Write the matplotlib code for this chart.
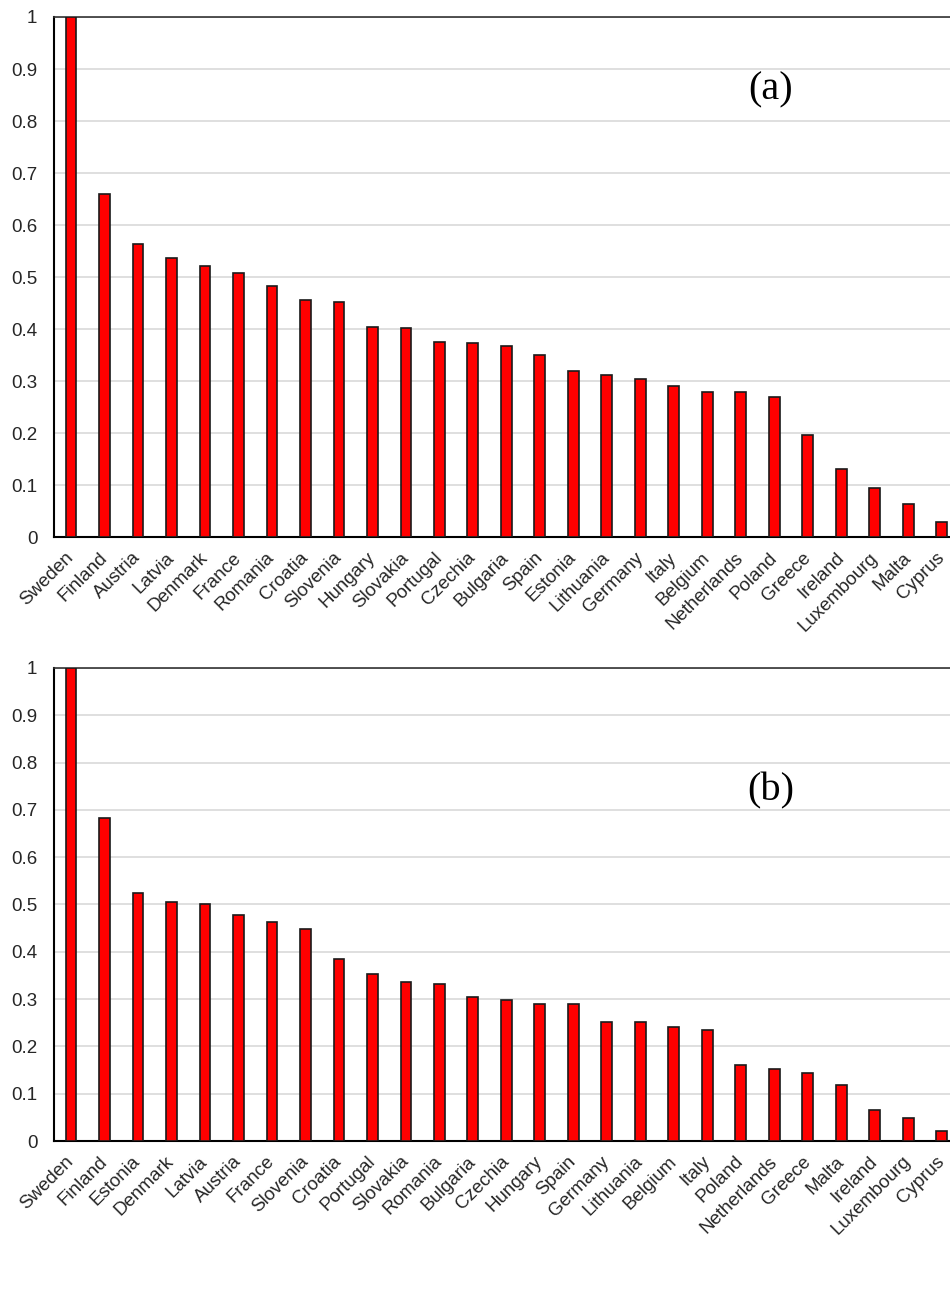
import matplotlib.pyplot as plt
import matplotlib.transforms as mtransforms
import numpy as np

plt.rcParams['font.family'] = ['Liberation Sans', 'DejaVu Sans']

countries_a = ['Sweden', 'Finland', 'Austria', 'Latvia', 'Denmark', 'France', 'Romania',
               'Croatia', 'Slovenia', 'Hungary', 'Slovakia', 'Portugal', 'Czechia',
               'Bulgaria', 'Spain', 'Estonia', 'Lithuania', 'Germany', 'Italy', 'Belgium',
               'Netherlands', 'Poland', 'Greece', 'Ireland', 'Luxembourg', 'Malta', 'Cyprus']
values_a = [1.0, 0.66, 0.563, 0.536, 0.521, 0.508, 0.483, 0.456, 0.453, 0.405, 0.403,
            0.376, 0.373, 0.368, 0.35, 0.32, 0.311, 0.304, 0.291, 0.28, 0.28, 0.27,
            0.196, 0.131, 0.094, 0.064, 0.029]

countries_b = ['Sweden', 'Finland', 'Estonia', 'Denmark', 'Latvia', 'Austria', 'France',
               'Slovenia', 'Croatia', 'Portugal', 'Slovakia', 'Romania', 'Bulgaria',
               'Czechia', 'Hungary', 'Spain', 'Germany', 'Lithuania', 'Belgium', 'Italy',
               'Poland', 'Netherlands', 'Greece', 'Malta', 'Ireland', 'Luxembourg', 'Cyprus']
values_b = [1.0, 0.682, 0.525, 0.505, 0.501, 0.477, 0.463, 0.448, 0.384, 0.353, 0.337,
            0.332, 0.305, 0.297, 0.289, 0.289, 0.251, 0.251, 0.242, 0.234, 0.16, 0.152,
            0.143, 0.118, 0.065, 0.049, 0.022]

yticks = [0, 0.1, 0.2, 0.3, 0.4, 0.5, 0.6, 0.7, 0.8, 0.9, 1]
ytick_labels = ['0', '0.1', '0.2', '0.3', '0.4', '0.5', '0.6', '0.7', '0.8', '0.9', '1']

fig = plt.figure(figsize=(9.5, 13.07), dpi=100)
ax_a = fig.add_axes([0.057, 0.589, 0.952, 0.398])
ax_b = fig.add_axes([0.057, 0.127, 0.952, 0.362])

# rotated category labels end a little left of and below the bar centre
shift = mtransforms.ScaledTranslation(-0.06, -0.12, fig.dpi_scale_trans)


def draw_panel(ax, names, vals, tag, tag_y):
    x = np.arange(len(names))
    ax.bar(x, vals, width=0.32, color='#ff0000', edgecolor='#1a1a1a', linewidth=1.2, zorder=3)
    ax.set_xlim(-0.5, len(names) - 0.5)
    ax.set_ylim(0, 1)
    ax.set_yticks(yticks)
    ax.set_yticklabels(ytick_labels, fontsize=13.5)
    ax.set_xticks(x)
    ax.set_xticklabels([])
    for xi, name in zip(x, names):
        ax.text(xi, 0, name, transform=ax.get_xaxis_transform() + shift,
                rotation=45, ha='right', va='top', rotation_mode='anchor',
                fontsize=13.5, color='#262626')
    ax.tick_params(axis='x', length=0)
    ax.tick_params(axis='y', length=0, colors='#262626', pad=12)
    ax.yaxis.grid(True, color='#d9d9d9', linewidth=1.2, zorder=0)
    ax.set_axisbelow(True)
    for side in ['left', 'bottom']:
        ax.spines[side].set_color('black')
        ax.spines[side].set_linewidth(1.5)
    ax.spines['top'].set_color('#333333')
    ax.spines['top'].set_linewidth(1.2)
    ax.spines['right'].set_visible(False)
    ax.text(0.792, tag_y, tag, transform=ax.transAxes, fontsize=29,
            family='Liberation Serif', ha='center', va='center')


draw_panel(ax_a, countries_a, values_a, '(a)', 0.86)
draw_panel(ax_b, countries_b, values_b, '(b)', 0.74)

fig.savefig('out.png', dpi=100)
